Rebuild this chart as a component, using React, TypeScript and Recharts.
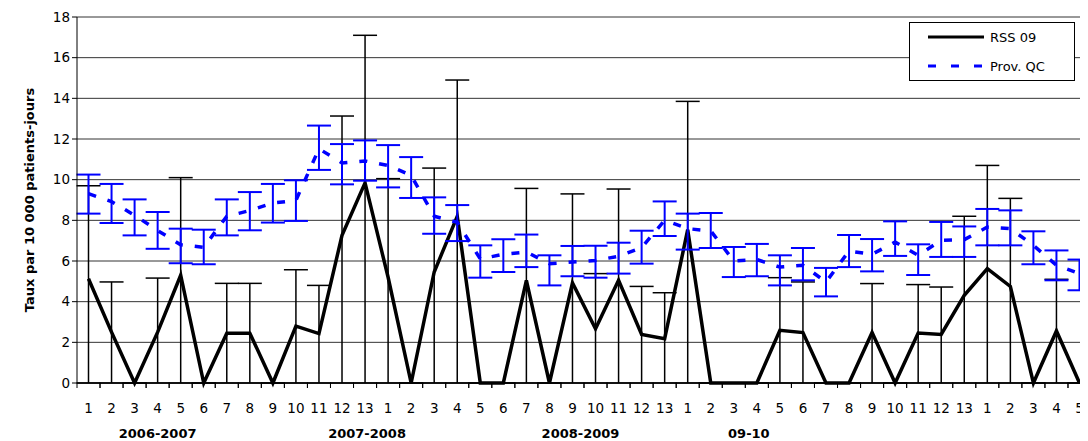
import React from "react";
import { ComposedChart, Line, XAxis, YAxis, CartesianGrid, ErrorBar } from "recharts";

const periods = ["1","2","3","4","5","6","7","8","9","10","11","12","13","1","2","3","4","5","6","7","8","9","10","11","12","13","1","2","3","4","5","6","7","8","9","10","11","12","13","1","2","3","4","5"];
const yearLabels: Record<number, [string, number]> = { 3: ["2006-2007", 0], 12: ["2007-2008", 2], 21: ["2008-2009", 8], 29: ["09-10", -8] };
const yTicks = [0, 2, 4, 6, 8, 10, 12, 14, 16, 18];

const rss = [5.13,2.5,0,2.5,5.3,0,2.45,2.45,0,2.8,2.43,7.26,9.84, 5.2,0,5.46,8.2,0,0,5.05,0,4.92,2.67,5.05,2.39,2.18, 7.54,0,0,0,2.59,2.48,0,0,2.48,0,2.46,2.39,4.31, 5.62,4.75,0,2.56,0];
const rssHigh = [9.7,4.97,0,5.16,10.1,0,4.9,4.9,0,5.57,4.8,13.13,17.1, 10.05,0,10.57,14.9,0,0,9.57,0,9.3,5.38,9.54,4.75,4.44, 13.85,0,0,0,5.18,4.97,0,0,4.89,0,4.84,4.72,8.2, 10.7,9.08,0,5.1,0];
const qc = [9.31,8.92,8.25,7.5,6.8,6.67,8.2,8.48,8.85,8.98,11.52,10.82,10.92, 10.7,10.21,8.2,7.9,6.1,6.33,6.44,5.87,5.95,6.03,6.23,6.66,8.0, 7.59,7.48,6.0,6.07,5.7,5.79,4.97,6.49,6.33,6.93,6.28,7.02,7.05, 7.67,7.59,6.77,5.79,5.38];
const qcHigh = [10.25,9.79,9.03,8.41,7.59,7.54,9.03,9.39,9.79,9.97,12.66,11.75,11.93, 11.7,11.11,9.13,8.75,6.77,7.07,7.3,6.28,6.74,6.75,6.9,7.49,8.93, 8.33,8.36,6.69,6.84,6.28,6.64,5.66,7.28,7.08,7.95,6.82,7.92,7.7, 8.56,8.49,7.46,6.52,6.07];
const qcLow = [8.33,7.87,7.26,6.6,5.89,5.84,7.26,7.51,7.89,7.97,10.48,9.77,9.95, 9.62,9.1,7.34,6.98,5.18,5.46,5.7,4.8,5.25,5.18,5.38,5.87,7.23, 6.56,6.64,5.21,5.25,4.8,5.05,4.26,5.7,5.49,6.25,5.31,6.2,6.2, 6.77,6.77,5.84,5.05,4.56];

const data = periods.map((p, i) => ({
  idx: i,
  rss: rss[i],
  rssErr: [rss[i], rssHigh[i] - rss[i]],
  qc: qc[i],
  qcErr: [qc[i] - qcLow[i], qcHigh[i] - qc[i]],
}));

const font = "'DejaVu Sans', sans-serif";

const XTick = (props: any) => {
  const { x, y, payload } = props;
  const i = payload.value as number;
  const yl = yearLabels[i];
  return (
    <g>
      <line x1={x - 11.5} x2={x - 11.5} y1={y - 8} y2={y - 3} stroke="#000" />
      <line x1={x + 11.5} x2={x + 11.5} y1={y - 8} y2={y - 3} stroke="#000" />
      <text x={x} y={y + 22} textAnchor="middle" fontSize={13.5} fontFamily={font} fill="#000">{periods[i]}</text>
      {yl && (
        <text x={x + yl[1]} y={y + 47} textAnchor="middle" fontSize={13} fontWeight="bold" fontFamily={font} fill="#000">{yl[0]}</text>
      )}
    </g>
  );
};

const LegendBox = () => (
  <div style={{ position: "absolute", left: 901, top: 14, width: 164, height: 57, border: "1px solid #000", background: "#fff", fontFamily: font, fontSize: 13 }}>
    <svg width={164} height={57} style={{ position: "absolute", left: 0, top: 0 }}>
      <line x1={18} x2={74} y1={14} y2={14} stroke="#000" strokeWidth={3} />
      <text x={80} y={19} fontSize={13} fontFamily={font}>RSS 09</text>
      <line x1={18} x2={74} y1={43} y2={43} stroke="#0000ff" strokeWidth={3} strokeDasharray="8 15" />
      <text x={80} y={48} fontSize={13} fontFamily={font}>Prov. QC</text>
    </svg>
  </div>
);

export default function App() {
  return (
    <div style={{ position: "relative", width: 1080, height: 433, overflow: "visible" }}>
      <ComposedChart width={1090} height={433} data={data} margin={{ top: 9, right: 7, bottom: 8, left: 17 }}>
        <CartesianGrid vertical={false} stroke="#333" />
        <XAxis dataKey="idx" type="category" tick={<XTick />} tickLine={false} height={50} interval={0} padding={{ left: 11.5, right: 11.5 }} axisLine={{ stroke: "#000" }} />
        <YAxis domain={[0, 18]} ticks={yTicks} width={52} tickSize={5} tickLine={{ stroke: "#000" }} axisLine={{ stroke: "#000" }}
          tick={{ fontSize: 13.5, fontFamily: font, fill: "#000" }}
          label={{ value: "Taux par 10 000 patients-jours", angle: -90, position: "insideLeft", offset: 4, style: { textAnchor: "middle", fontSize: 13, fontWeight: "bold", fontFamily: font, fill: "#000" } }} />
        <Line dataKey="rss" stroke="#000" strokeWidth={3.5} dot={false} isAnimationActive={false}>
          <ErrorBar dataKey="rssErr" stroke="#000" strokeWidth={1.5} width={12} />
        </Line>
        <Line dataKey="qc" stroke="#0000ff" strokeWidth={3.5} strokeDasharray="8 12" dot={false} isAnimationActive={false}>
          <ErrorBar dataKey="qcErr" stroke="#0000ff" strokeWidth={2} width={12} />
        </Line>
      </ComposedChart>
      <LegendBox />
    </div>
  );
}
